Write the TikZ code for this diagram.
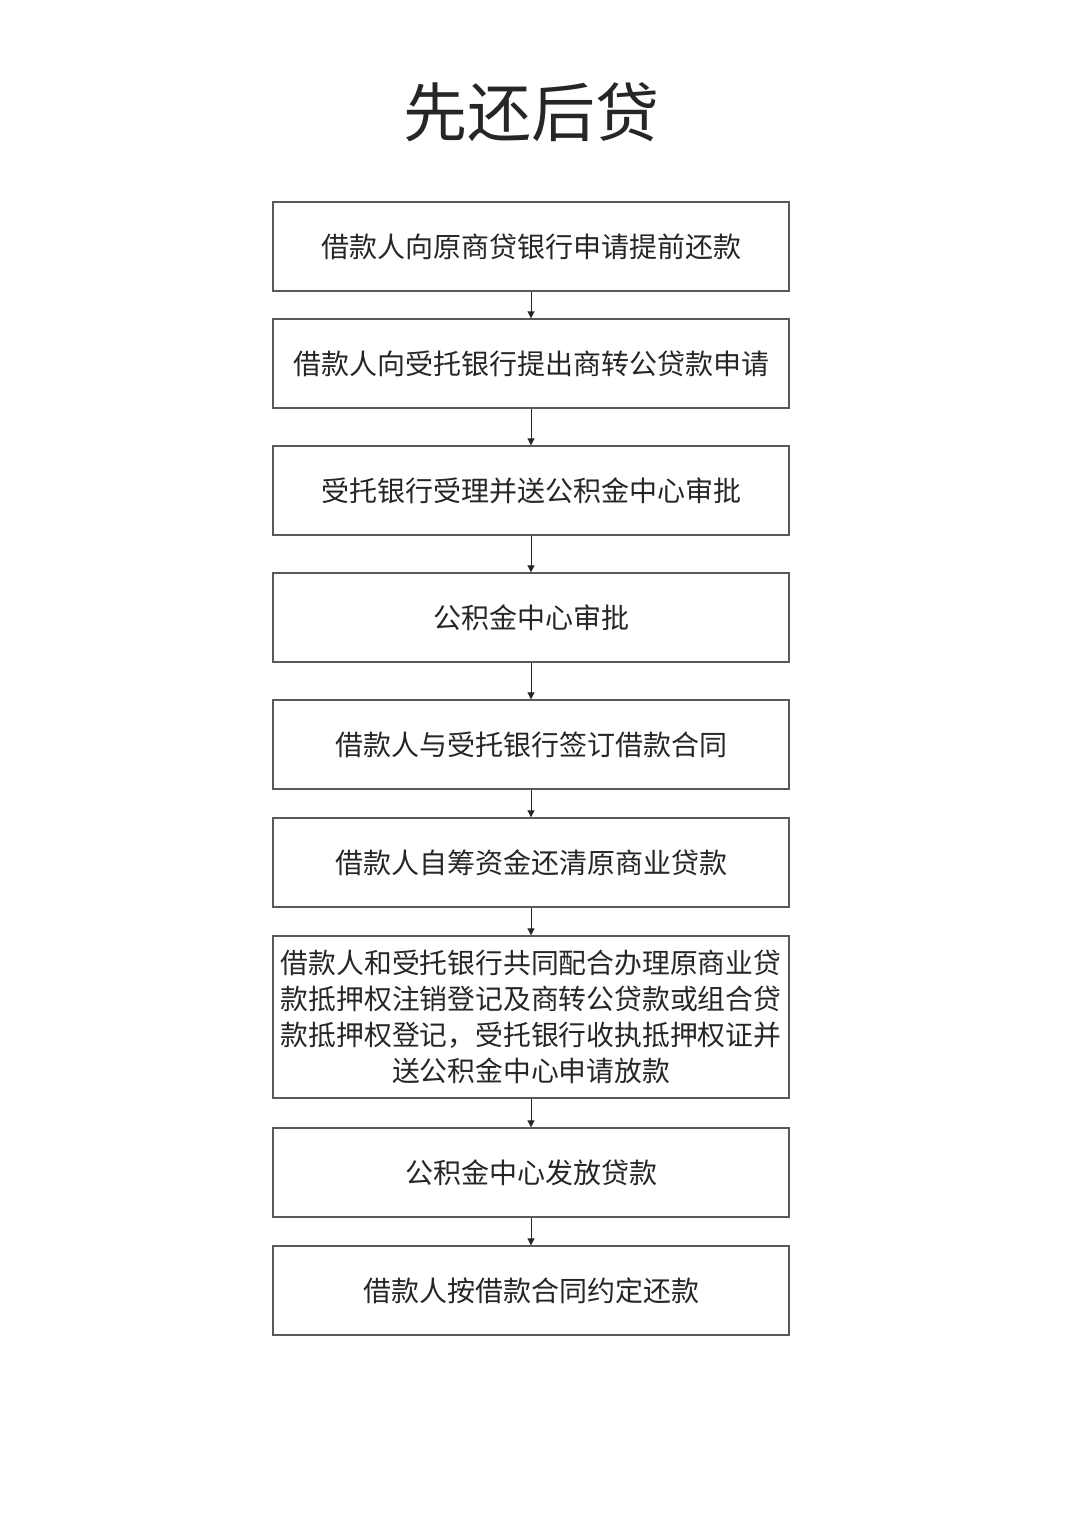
\documentclass[tikz,border=0pt]{standalone}
\usepackage{fontspec}
\setmainfont{Noto Sans CJK SC}
\newfontfamily\cjk{Noto Sans CJK SC}
\usetikzlibrary{arrows.meta}
\begin{document}
\begin{tikzpicture}[x=0.5pt,y=-0.5pt,
  stepbox/.style={draw=black!65,line width=0.7pt,fill=white,minimum width=258pt,minimum height=44.5pt,inner sep=0pt,text=black!85},
  boxfont/.style={font=\cjk\fontsize{14}{17}\selectfont},
  conn/.style={draw=black!85,line width=0.5pt,-{Triangle[length=3.5pt,width=3.5pt]}}]
\useasboundingbox (0,0) rectangle (1080,1526);
\node[font=\cjk\fontsize{32}{38}\selectfont,text=black!85] (title) at (531,112) {先还后贷};
\node[stepbox,boxfont] (b1) at (531,246.5) {借款人向原商贷银行申请提前还款};
\node[stepbox,boxfont] (b2) at (531,363.5) {借款人向受托银行提出商转公贷款申请};
\node[stepbox,boxfont] (b3) at (531,490.5) {受托银行受理并送公积金中心审批};
\node[stepbox,boxfont] (b4) at (531,617.5) {公积金中心审批};
\node[stepbox,boxfont] (b5) at (531,744.5) {借款人与受托银行签订借款合同};
\node[stepbox,boxfont] (b6) at (531,862.5) {借款人自筹资金还清原商业贷款};
\node[stepbox,minimum height=81pt,align=center,font=\cjk\fontsize{13.9}{18}\selectfont] (b7) at (531,1017) {借款人和受托银行共同配合办理原商业贷\\款抵押权注销登记及商转公贷款或组合贷\\款抵押权登记，受托银行收执抵押权证并\\送公积金中心申请放款};
\node[stepbox,boxfont] (b8) at (531,1172.5) {公积金中心发放贷款};
\node[stepbox,boxfont] (b9) at (531,1290.5) {借款人按借款合同约定还款};
\foreach \a/\b in {b1/b2,b2/b3,b3/b4,b4/b5,b5/b6,b6/b7,b7/b8,b8/b9}
  \draw[conn] (\a.south) -- (\b.north);
\end{tikzpicture}
\end{document}
